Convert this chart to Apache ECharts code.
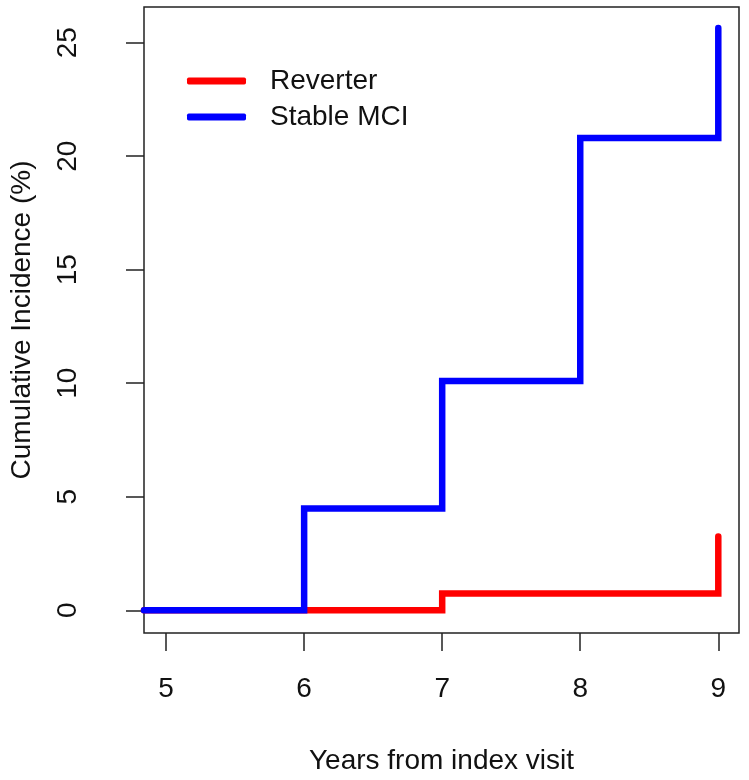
<!DOCTYPE html>
<html>
<head>
<meta charset="utf-8">
<script src="https://cdn.jsdelivr.net/npm/echarts@6/dist/echarts.min.js"></script>
<style>
html,body{margin:0;padding:0;background:#fff;}
#chart{width:749px;height:780px;}
</style>
</head>
<body>
<div id="chart"></div>
<script>
// Data
var seriesNames = ['Reverter', 'Stable MCI'];
var reverterX = [4.84, 7, 9];
var reverterY = [0, 0.74, 3.25];
var stableX = [4.84, 6, 7, 8, 9];
var stableY = [0, 4.48, 10.1, 20.8, 25.65];
var xTicks = [5, 6, 7, 8, 9];
var yTicks = [0, 5, 10, 15, 20, 25];
var xTitle = 'Years from index visit';
var yTitle = 'Cumulative Incidence (%)';

function pairs(xs, ys) { return xs.map(function (x, i) { return [x, ys[i]]; }); }

var FONT = '"Liberation Sans", Arial, Helvetica, sans-serif';
var chart = echarts.init(document.getElementById('chart'), null, {renderer: 'canvas'});
chart.setOption({
  animation: false,
  backgroundColor: '#ffffff',
  grid: {left: 141, right: 10, top: 7, bottom: 139, show: true, borderColor: '#222', borderWidth: 1.5, backgroundColor: '#fff'},
  legend: {
    orient: 'vertical', left: 187, top: 67, itemGap: 8, padding: 0,
    itemWidth: 59, itemHeight: 7, icon: 'roundRect',
    data: seriesNames,
    textStyle: {fontFamily: FONT, fontSize: 28, color: '#111', padding: [0, 0, 0, 19]}
  },
  xAxis: {
    type: 'value', min: 4.84, max: 9.15,
    splitLine: {show: false},
    axisLine: {show: false, onZero: false},
    axisTick: {show: true, length: 18, inside: false, customValues: xTicks, lineStyle: {color: '#222', width: 1.5}},
    axisLabel: {customValues: xTicks, margin: 42, fontFamily: FONT, fontSize: 28, color: '#111'},
    name: xTitle, nameLocation: 'middle', nameGap: 114,
    nameTextStyle: {fontFamily: FONT, fontSize: 28, color: '#111'}
  },
  yAxis: {
    type: 'value', min: -1.0, max: 26.57,
    splitLine: {show: false},
    axisLine: {show: false, onZero: false},
    axisTick: {show: true, length: 18, inside: false, customValues: yTicks, lineStyle: {color: '#222', width: 1.5}},
    axisLabel: {customValues: yTicks, rotate: 90, margin: 62, fontFamily: FONT, fontSize: 28, color: '#111'},
    name: yTitle, nameLocation: 'middle', nameGap: 108, nameRotate: 90,
    nameTextStyle: {fontFamily: FONT, fontSize: 28, color: '#111'}
  },
  series: [
    {
      name: seriesNames[0], type: 'line', step: 'end', showSymbol: false, symbol: 'none',
      data: pairs(reverterX, reverterY),
      itemStyle: {color: '#ff0000'},
      lineStyle: {color: '#ff0000', width: 6.5, cap: 'round', join: 'miter'},
      z: 2
    },
    {
      name: seriesNames[1], type: 'line', step: 'end', showSymbol: false, symbol: 'none',
      data: pairs(stableX, stableY),
      itemStyle: {color: '#0000ff'},
      lineStyle: {color: '#0000ff', width: 6.5, cap: 'round', join: 'miter'},
      z: 3
    }
  ]
});
</script>
</body>
</html>
